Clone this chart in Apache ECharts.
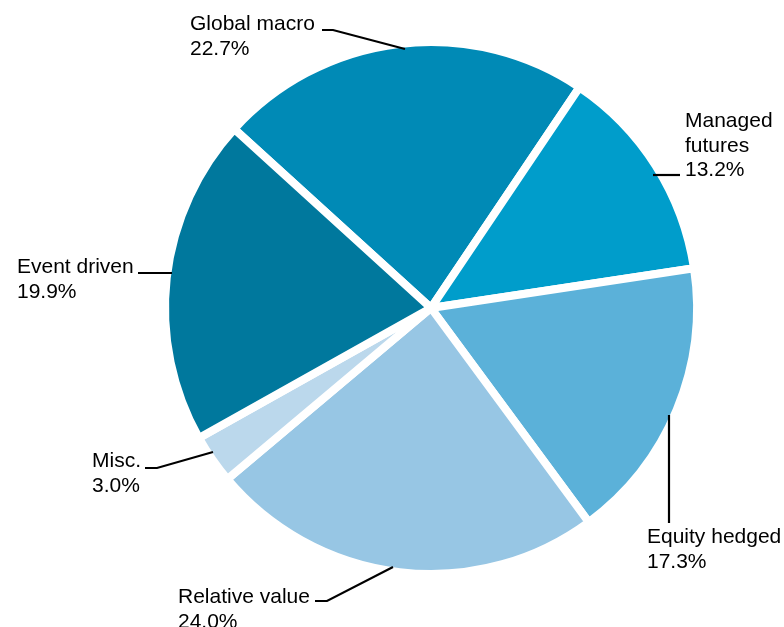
<!DOCTYPE html>
<html>
<head>
<meta charset="utf-8">
<script src="https://cdn.jsdelivr.net/npm/echarts@6/dist/echarts.min.js"></script>
<style>
  html, body { margin: 0; padding: 0; background: #fff; }
  #chart { width: 784px; height: 627px; }
</style>
</head>
<body>
<div id="chart"></div>
<script>
// Hedge fund strategy allocation (% of total)
const categories = ['Global macro', 'Managed futures', 'Equity hedged', 'Relative value', 'Misc.', 'Event driven'];
const labelNames = ['Global macro', 'Managed\nfutures', 'Equity hedged', 'Relative value', 'Misc.', 'Event driven'];
const shares = [22.7, 13.2, 17.3, 24.0, 3.0, 19.9];
const sliceColors = ['#008AB6', '#009DCB', '#5BB1D9', '#97C6E4', '#BBD8EC', '#00789D'];

// Label placement: top-left of the text block and the leader-line path (slice edge -> elbow -> text)
const labelSpots = [
  { x: 190, y: 12,  line: [[405, 49], [333, 30], [322, 30]] },
  { x: 685, y: 109, line: [[653, 175], [667, 175], [680, 175]] },
  { x: 647, y: 525, line: [[669, 415], [669, 470], [669, 523]] },
  { x: 178, y: 585, line: [[393, 567], [327, 601], [315, 601]] },
  { x: 92,  y: 449, line: [[213, 452], [157, 468], [145, 468]] },
  { x: 17,  y: 255, line: [[172, 273], [155, 273], [138, 273]] }
];

const pieGeometry = {
  center: [431, 308],
  radius: [0, 266],
  startAngle: 137.7,
  clockwise: true
};

const sliceData = categories.map((name, i) => ({
  name: name,
  value: shares[i],
  itemStyle: { color: sliceColors[i] }
}));

const chart = echarts.init(document.getElementById('chart'), null, { renderer: 'canvas' });

chart.setOption({
  animation: false,
  backgroundColor: '#ffffff',
  series: [
    // coloured slices separated by white gaps
    Object.assign({
      type: 'pie',
      z: 2,
      silent: true,
      label: { show: false },
      labelLine: { show: false },
      itemStyle: { borderColor: '#ffffff', borderWidth: 8 },
      emphasis: { disabled: true },
      data: sliceData
    }, pieGeometry),
    // labels and leader lines, drawn on top of the slices
    Object.assign({
      type: 'pie',
      z: 3,
      silent: true,
      avoidLabelOverlap: false,
      itemStyle: { color: 'rgba(0,0,0,0)', borderWidth: 0 },
      label: {
        show: true,
        formatter: p => labelNames[p.dataIndex] + '\n' + p.value.toFixed(1) + '%',
        fontFamily: '"Liberation Sans", Arial, sans-serif',
        fontSize: 21,
        lineHeight: 24.5,
        color: '#000000'
      },
      labelLine: {
        show: true,
        lineStyle: { color: '#000000', width: 2.2 }
      },
      labelLayout: params => {
        const spot = labelSpots[params.dataIndex];
        return {
          x: spot.x,
          y: spot.y,
          align: 'left',
          verticalAlign: 'top',
          labelLinePoints: spot.line
        };
      },
      emphasis: { disabled: true },
      data: categories.map((name, i) => ({ name: name, value: shares[i] }))
    }, pieGeometry)
  ]
});
</script>
</body>
</html>
